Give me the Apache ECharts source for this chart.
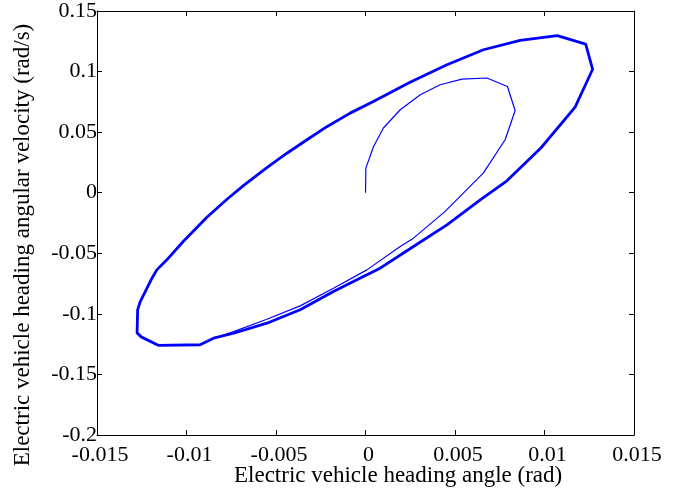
<!DOCTYPE html>
<html>
<head>
<meta charset="utf-8">
<script src="https://cdn.jsdelivr.net/npm/echarts@6/dist/echarts.min.js"></script>
<style>
html,body{margin:0;padding:0;background:#fff;}
#chart{width:686px;height:495px;}
</style>
</head>
<body>
<div id="chart"></div>
<script>
// Transient trajectory starting from the origin (thin line)
var transientX = [0, 0.00002, 0.00045, 0.0010, 0.00194, 0.00306, 0.00417, 0.00539, 0.00678, 0.00793, 0.00836, 0.0078, 0.00659, 0.00445, 0.00268, 0.00194, 0.00008, -0.00179, -0.00365, -0.00551, -0.00737, -0.00849];
var transientY = [0, 0.0203, 0.0382, 0.0534, 0.0685, 0.0809, 0.0891, 0.0938, 0.0947, 0.0877, 0.0679, 0.0437, 0.0164, -0.0154, -0.0375, -0.0444, -0.0637, -0.0788, -0.0934, -0.1044, -0.1147, -0.1201];

// Limit cycle (thick line)
var cycleX = [-0.00849, -0.00924, -0.01158, -0.01253, -0.01276, -0.01273, -0.01259, -0.01193, -0.01166, -0.0111, -0.01017, -0.00886, -0.00774, -0.00682, -0.00551, -0.00439, -0.00327, -0.00216, -0.00086, 0.00044, 0.00249, 0.00455, 0.00659, 0.00864, 0.01071, 0.0123, 0.01269, 0.01171, 0.00981, 0.0079, 0.00641, 0.00455, 0.00268, 0.00082, 0.00008, -0.00179, -0.00365, -0.00551, -0.00737, -0.00849];
var cycleY = [-0.1201, -0.1255, -0.126, -0.119, -0.1157, -0.0967, -0.0901, -0.0706, -0.0637, -0.0554, -0.0401, -0.0202, -0.0054, 0.0058, 0.0207, 0.0326, 0.0437, 0.0545, 0.0657, 0.0753, 0.0911, 0.1056, 0.118, 0.1257, 0.1296, 0.1226, 0.1019, 0.0707, 0.0371, 0.0098, -0.0059, -0.0265, -0.0444, -0.0623, -0.0678, -0.0816, -0.0966, -0.1077, -0.116, -0.1201];

// Axis settings
var xMin = -0.015, xMax = 0.015, xStep = 0.005;
var yMin = -0.2, yMax = 0.15, yStep = 0.05;
var xTitle = 'Electric vehicle heading angle (rad)';
var yTitle = 'Electric vehicle heading angular velocity (rad/s)';

function pairs(xs, ys) {
  var out = [];
  for (var i = 0; i < xs.length; i++) out.push([xs[i], ys[i]]);
  return out;
}
function fmt(v) { return String(parseFloat(Number(v).toPrecision(6))); }

var FONT = '"Liberation Serif", "Times New Roman", serif';
var chart = echarts.init(document.getElementById('chart'), null, {renderer: 'canvas'});

function xAxisDef(pos, show) {
  return {
    type: 'value', position: pos, min: xMin, max: xMax, interval: xStep,
    axisLine: {show: true, onZero: false, lineStyle: {color: '#000', width: 1}},
    axisTick: {show: true, inside: true, length: 5, lineStyle: {color: '#000'}},
    axisLabel: {show: show, margin: 9, color: '#000', fontFamily: FONT, fontSize: 22, formatter: fmt, padding: [0, 0, 0, 6]},
    splitLine: {show: false}
  };
}
function yAxisDef(pos, show) {
  return {
    type: 'value', position: pos, min: yMin, max: yMax, interval: yStep,
    axisLine: {show: true, onZero: false, lineStyle: {color: '#000', width: 1}},
    axisTick: {show: true, inside: true, length: 5, lineStyle: {color: '#000'}},
    axisLabel: {show: show, margin: 0, color: '#000', fontFamily: FONT, fontSize: 22, formatter: fmt, padding: [3, 0, 0, 0]},
    splitLine: {show: false}
  };
}

chart.setOption({
  animation: false,
  backgroundColor: '#fff',
  grid: {left: 97, right: 52, top: 11, bottom: 60, containLabel: false},
  xAxis: [xAxisDef('bottom', true), xAxisDef('top', false)],
  yAxis: [yAxisDef('left', true), yAxisDef('right', false)],
  graphic: [
    {type: 'text', left: 234, top: 464, style: {text: xTitle, fill: '#000', font: '23px ' + FONT}},
    {type: 'text', x: 23, y: 245, rotation: Math.PI / 2,
     style: {text: yTitle, fill: '#000', font: '23px ' + FONT, align: 'center', verticalAlign: 'middle'}}
  ],
  series: [
    {type: 'line', name: 'transient', data: pairs(transientX, transientY), showSymbol: false, symbol: 'none',
     lineStyle: {color: '#0000ff', width: 1.2}, z: 2},
    {type: 'line', name: 'cycle', data: pairs(cycleX, cycleY), showSymbol: false, symbol: 'none',
     lineStyle: {color: '#0000ff', width: 2.8}, z: 3}
  ]
});
</script>
</body>
</html>
